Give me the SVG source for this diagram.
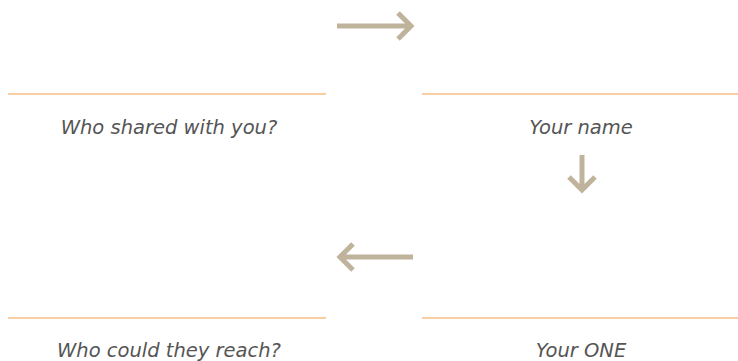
<svg xmlns="http://www.w3.org/2000/svg" width="738" height="361" viewBox="0 0 738 361">
<style>
.rule{stroke:#f8cfa5;stroke-width:2;fill:none}
.lbl{font-family:"DejaVu Sans","Liberation Sans",sans-serif;font-style:italic;font-size:19.5px;fill:#555555;text-anchor:middle}
.arr{stroke:#c0b39b;stroke-width:5;fill:none;stroke-linecap:butt;stroke-linejoin:miter}
</style>
<rect width="738" height="361" fill="#ffffff"/>
<g id="node-shared">
<line class="rule" x1="8" y1="94" x2="326" y2="94"/>
<text class="lbl" x="169" y="134">Who shared with you?</text>
</g>
<g id="node-name">
<line class="rule" x1="422" y1="94" x2="738" y2="94"/>
<text class="lbl" x="581" y="134">Your name</text>
</g>
<g id="node-reach">
<line class="rule" x1="8" y1="318" x2="326" y2="318"/>
<text class="lbl" x="169" y="357">Who could they reach?</text>
</g>
<g id="node-one">
<line class="rule" x1="422" y1="318" x2="738" y2="318"/>
<text class="lbl" x="581" y="357">Your ONE</text>
</g>
<g id="connectors">
<path class="arr" d="M337 26 H410 M398 13 L411 26 L398 39"/>
<path class="arr" d="M582 155 V191 M569 177 L582 190 L595 177"/>
<path class="arr" d="M413 257 H340 M353 244 L340 257 L353 270"/>
</g>
</svg>
